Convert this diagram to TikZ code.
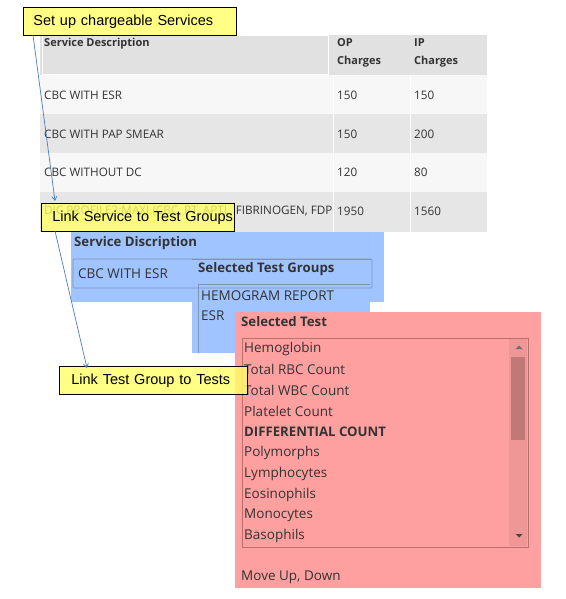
\documentclass[tikz,border=0pt]{standalone}
\usepackage{fontspec}
\setmainfont{Open Sans}
\newfontfamily\arialf{Liberation Sans}
\usetikzlibrary{arrows.meta}
\definecolor{hdrgray}{HTML}{E1E1E1}
\definecolor{rowlight}{HTML}{F7F7F7}
\definecolor{rowdark}{HTML}{E6E6E6}
\definecolor{txtgray}{HTML}{333333}
\definecolor{panelblue}{HTML}{A0C4FF}
\definecolor{panelred}{HTML}{FFA0A0}
\definecolor{calloutyellow}{HTML}{FFFF66}
\definecolor{linkblue}{HTML}{4A7EBB}
\definecolor{boxborderblue}{HTML}{7F93B3}
\definecolor{boxborderred}{HTML}{B87070}
\definecolor{scrolltrack}{HTML}{EF9696}
\definecolor{scrollthumb}{HTML}{C07878}
\tikzset{
  tabtext/.style={anchor=west, inner sep=0pt, text=txtgray, font=\fontsize{11.7}{14}\selectfont},
  tabbold/.style={tabtext, font=\fontsize{11}{13}\selectfont\bfseries},
  uitext/.style={anchor=west, inner sep=0pt, text=txtgray, font=\fontsize{13.5}{16}\selectfont},
  uibold/.style={uitext, font=\fontsize{13.2}{16}\selectfont\bfseries},
  callout/.style={draw=black, line width=0.8pt, fill=calloutyellow, fill opacity=0.8, text opacity=1,
    anchor=north west, inner xsep=0pt, inner ysep=0pt, minimum height=28pt, text=black,
    font=\arialf\fontsize{14.5}{16}\selectfont, align=left},
  link/.style={draw=linkblue, line width=0.7pt, -{Straight Barb[length=4pt,width=5pt]}},
  listbox/.style={line width=0.7pt},
}
\begin{document}
\begin{tikzpicture}[x=1pt,y=-1pt]
\useasboundingbox (0,0) rectangle (565,599);
% ---------------- table ----------------
\fill[hdrgray] (40,35) rectangle (487,75);
\draw[white, line width=0.8pt] (42,35.5) rectangle (328,74.5);
\fill[rowlight] (40,75) rectangle (487,114);
\fill[rowdark] (40,114) rectangle (487,153);
\fill[rowlight] (40,153) rectangle (487,192);
\fill[rowdark] (40,192) rectangle (487,232);
\draw[white, line width=0.6pt] (333,75) -- (333,232) (410,75) -- (410,232);
\node[tabbold] (h1) at (44,44) {Service Description};
\node[tabbold] (h2a) at (337,43) {OP};
\node[tabbold] (h2b) at (337,62) {Charges};
\node[tabbold] (h3a) at (414,43) {IP};
\node[tabbold] (h3b) at (414,62) {Charges};
\node[tabtext] (r1a) at (44,95) {CBC WITH ESR};
\node[tabtext] (r1b) at (337,95) {150};
\node[tabtext] (r1c) at (414,95) {150};
\node[tabtext] (r2a) at (44,134) {CBC WITH PAP SMEAR};
\node[tabtext] (r2b) at (337,134) {150};
\node[tabtext] (r2c) at (414,134) {200};
\node[tabtext] (r3a) at (44,172) {CBC WITHOUT DC};
\node[tabtext] (r3b) at (337,172) {120};
\node[tabtext] (r3c) at (414,172) {80};
\node[tabtext] (r4a) at (44,211) {DIC PROFILE2:MAXI (CBC, PT, APTL, FIBRINOGEN, FDP};
\node[tabtext] (r4b) at (337,211) {1950};
\node[tabtext] (r4c) at (414,211) {1560};
% ---------------- callout 2 over table ----------------
\node[callout, minimum width=193pt, text width=193pt] (c2) at (41,203) {\hspace*{11pt}Link Service to Test Groups};
% ---------------- blue panel ----------------
\fill[panelblue] (71,232) rectangle (384,302);
\fill[panelblue] (192,302) rectangle (370,353);
\node[uibold] (sd) at (74,243) {Service Discription};
\draw[boxborderblue, listbox, rounded corners=1pt] (73,259) rectangle (372,288);
\node[uitext] (sdv) at (78,274) {CBC WITH ESR};
\fill[panelblue] (192,261) rectangle (370,284);
\draw[boxborderblue, listbox] (192,259) -- (372,259);
\node[uibold] (stg) at (198,269) {Selected Test Groups};
\draw[boxborderblue, listbox] (198,353) -- (198,284.5) -- (370,284.5);
\node[uitext] (g1) at (201,296) {HEMOGRAM REPORT};
\node[uitext] (g2) at (201,316) {ESR};
% ---------------- red panel ----------------
\fill[panelred] (235,312) rectangle (541,588);
\node[uibold] (st) at (241,322) {Selected Test};
\fill[scrolltrack] (509,338) rectangle (527,546);
\fill[scrollthumb] (511,357) rectangle (525,440);
\fill[txtgray!70] (515.5,349) -- (522.5,349) -- (519,345.5) -- cycle;
\fill[txtgray!90] (515.5,534) -- (522.5,534) -- (519,537.5) -- cycle;
\draw[boxborderred, listbox] (242,338) rectangle (528,547);
\node[uitext] (t1) at (244,349) {Hemoglobin};
\node[uitext] (t2) at (244,369.8) {Total RBC Count};
\node[uitext] (t3) at (244,390.6) {Total WBC Count};
\node[uitext] (t4) at (244,411.4) {Platelet Count};
\node[uibold] (t5) at (244,432.2) {DIFFERENTIAL COUNT};
\node[uitext] (t6) at (244,453) {Polymorphs};
\node[uitext] (t7) at (244,473.8) {Lymphocytes};
\node[uitext] (t8) at (244,494.6) {Eosinophils};
\node[uitext] (t9) at (244,515.4) {Monocytes};
\node[uitext] (t10) at (244,536.2) {Basophils};
\node[uitext] (mv) at (241,577) {Move Up, Down};
% ---------------- callouts 1 and 3 ----------------
\node[callout, minimum width=188pt, text width=188pt] (c3) at (59,366) {\hspace*{12pt}Link Test Group to Tests};
\node[callout, minimum width=213pt, text width=213pt] (c1) at (23,7) {\hspace*{10pt}Set up chargeable Services};
% ---------------- links ----------------
\coordinate (l1s) at (33,35);
\coordinate (l1e) at (55,201);
\coordinate (l2s) at (55,231);
\coordinate (l2e) at (87,368);
\draw[link] (l1s) -- (l1e);
\draw[link] (l2s) -- (l2e);
\end{tikzpicture}
\end{document}
